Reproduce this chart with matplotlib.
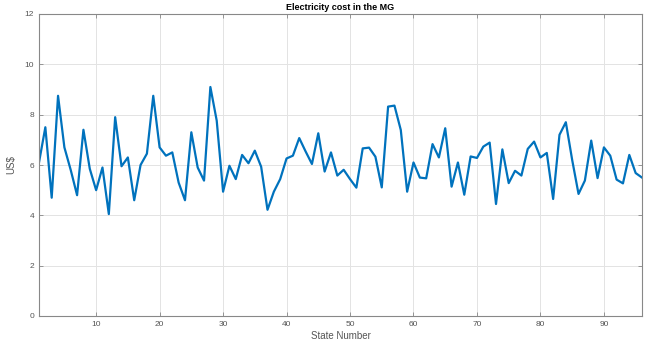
import matplotlib
matplotlib.use('Agg')
import matplotlib.pyplot as plt
import numpy as np

# Costo por estado
costo = [6.1, 7.5, 4.7, 8.75, 6.7, 5.8, 4.8, 7.4, 5.85, 5.0,
         5.9, 4.05, 7.9, 5.95, 6.3, 4.6, 6.0, 6.45, 8.75, 6.7,
         6.37, 6.5, 5.3, 4.6, 7.3, 5.9, 5.38, 9.1, 7.76, 4.94,
         5.97, 5.44, 6.4, 6.07, 6.57, 5.93, 4.22, 4.94, 5.44, 6.26,
         6.37, 7.07, 6.54, 6.04, 7.26, 5.74, 6.5, 5.58, 5.81, 5.44,
         5.1, 6.66, 6.69, 6.33, 5.11, 8.32, 8.36, 7.39, 4.94, 6.1,
         5.5, 5.47, 6.83, 6.3, 7.46, 5.14, 6.1, 4.82, 6.34, 6.28,
         6.73, 6.89, 4.45, 6.62, 5.28, 5.77, 5.58, 6.64, 6.93, 6.3,
         6.48, 4.65, 7.2, 7.7, 6.2, 4.85, 5.38, 6.97, 5.48, 6.7,
         6.37, 5.42, 5.27, 6.4, 5.68, 5.5]
estados = np.arange(1, len(costo) + 1)

xticks = [10, 20, 30, 40, 50, 60, 70, 80, 90]
yticks = [0, 2, 4, 6, 8, 10, 12]

plt.rcParams['font.family'] = ['Liberation Sans', 'DejaVu Sans']

fig = plt.figure(figsize=(6.56, 3.44), dpi=100)
ax = fig.add_axes([39 / 656, 1 - 316 / 344, 603 / 656, 302 / 344])

ax.plot(estados, costo, color='#0072BD', linewidth=1.6)

ax.set_xlim(1, 96)
ax.set_ylim(0, 12)
ax.set_xticks(xticks)
ax.set_yticks(yticks)
ax.grid(True, color='#e3e3e3', linewidth=0.7)
ax.set_axisbelow(True)

gris = '#555555'
for s in ax.spines.values():
    s.set_color('#888888')
    s.set_linewidth(0.8)
ax.tick_params(direction='in', length=3, width=0.6, colors='#888888',
               labelcolor=gris, labelsize=6, top=True, right=True)

ax.set_title('Electricity cost in the MG', fontsize=6.5, fontweight='bold', pad=3)
ax.set_xlabel('State Number', fontsize=7, color=gris, labelpad=2)
ax.set_ylabel('US$', fontsize=7, color=gris, labelpad=6)

fig.savefig('out.png', dpi=100)
